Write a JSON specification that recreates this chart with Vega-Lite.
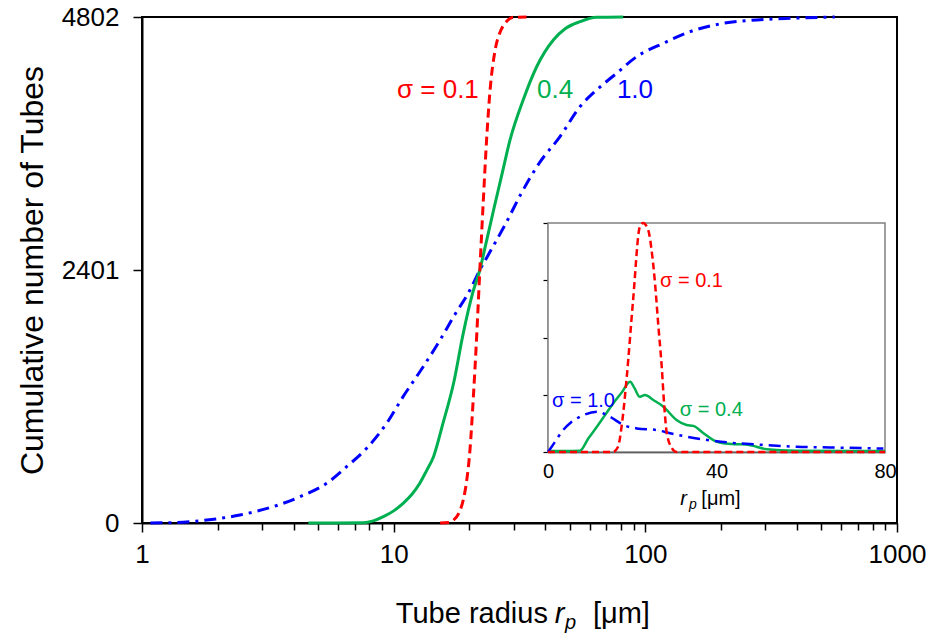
{
  "$schema": "https://vega.github.io/schema/vega-lite/v6.json",
  "width": 755,
  "height": 506,
  "autosize": {"type": "none"},
  "padding": {"left": 142, "top": 17, "right": 35, "bottom": 112},
  "background": "white",
  "config": {
    "view": {"stroke": "black", "strokeWidth": 2},
    "font": "Liberation Sans",
    "text": {"font": "Liberation Sans"},
    "axis": {
      "domainColor": "black",
      "tickColor": "black",
      "labelColor": "black",
      "titleColor": "black",
      "labelFont": "Liberation Sans",
      "titleFont": "Liberation Sans",
      "titleFontWeight": "normal",
      "grid": false
    }
  },
  "datasets": {
    "cumulative": [
      {"s": "0.1", "r": 15.3, "n": 0}, {"s": "0.1", "r": 16.5, "n": 5}, {"s": "0.1", "r": 17.3, "n": 28},
      {"s": "0.1", "r": 18.2, "n": 100}, {"s": "0.1", "r": 18.9, "n": 218}, {"s": "0.1", "r": 19.5, "n": 400},
      {"s": "0.1", "r": 20.1, "n": 693}, {"s": "0.1", "r": 20.7, "n": 1167}, {"s": "0.1", "r": 21.4, "n": 1800},
      {"s": "0.1", "r": 22.0, "n": 2401}, {"s": "0.1", "r": 22.7, "n": 3050}, {"s": "0.1", "r": 23.4, "n": 3635},
      {"s": "0.1", "r": 24.1, "n": 4078}, {"s": "0.1", "r": 25.3, "n": 4489}, {"s": "0.1", "r": 26.5, "n": 4660},
      {"s": "0.1", "r": 27.7, "n": 4742}, {"s": "0.1", "r": 29.9, "n": 4799}, {"s": "0.1", "r": 33.7, "n": 4802},

      {"s": "0.4", "r": 4.58, "n": 0}, {"s": "0.4", "r": 6.0, "n": 0}, {"s": "0.4", "r": 7.57, "n": 2},
      {"s": "0.4", "r": 8.3, "n": 20}, {"s": "0.4", "r": 9.1, "n": 60}, {"s": "0.4", "r": 10.0, "n": 115},
      {"s": "0.4", "r": 10.9, "n": 187}, {"s": "0.4", "r": 11.8, "n": 270}, {"s": "0.4", "r": 12.7, "n": 377},
      {"s": "0.4", "r": 13.5, "n": 495}, {"s": "0.4", "r": 14.4, "n": 629}, {"s": "0.4", "r": 15.7, "n": 946},
      {"s": "0.4", "r": 17.3, "n": 1326}, {"s": "0.4", "r": 18.9, "n": 1800}, {"s": "0.4", "r": 20.7, "n": 2200},
      {"s": "0.4", "r": 22.0, "n": 2401}, {"s": "0.4", "r": 23.1, "n": 2620}, {"s": "0.4", "r": 25.0, "n": 2980},
      {"s": "0.4", "r": 27.0, "n": 3320}, {"s": "0.4", "r": 29.0, "n": 3635}, {"s": "0.4", "r": 32.7, "n": 4014},
      {"s": "0.4", "r": 37.0, "n": 4330}, {"s": "0.4", "r": 43.1, "n": 4584}, {"s": "0.4", "r": 48.0, "n": 4690},
      {"s": "0.4", "r": 55.0, "n": 4758}, {"s": "0.4", "r": 64.0, "n": 4799}, {"s": "0.4", "r": 81.7, "n": 4802},

      {"s": "1.0", "r": 1.08, "n": 0}, {"s": "1.0", "r": 1.3, "n": 3}, {"s": "1.0", "r": 1.81, "n": 28},
      {"s": "1.0", "r": 2.45, "n": 76}, {"s": "1.0", "r": 3.32, "n": 155}, {"s": "1.0", "r": 4.25, "n": 250},
      {"s": "1.0", "r": 5.42, "n": 377}, {"s": "1.0", "r": 6.5, "n": 534}, {"s": "1.0", "r": 7.81, "n": 709},
      {"s": "1.0", "r": 9.38, "n": 946}, {"s": "1.0", "r": 10.9, "n": 1199}, {"s": "1.0", "r": 13.1, "n": 1483},
      {"s": "1.0", "r": 15.3, "n": 1737}, {"s": "1.0", "r": 17.3, "n": 1958}, {"s": "1.0", "r": 20.1, "n": 2211},
      {"s": "1.0", "r": 22.0, "n": 2401}, {"s": "1.0", "r": 24.5, "n": 2600}, {"s": "1.0", "r": 28.0, "n": 2850},
      {"s": "1.0", "r": 32.0, "n": 3120}, {"s": "1.0", "r": 38.0, "n": 3420}, {"s": "1.0", "r": 45.8, "n": 3666},
      {"s": "1.0", "r": 55.0, "n": 3951}, {"s": "1.0", "r": 64.0, "n": 4109}, {"s": "1.0", "r": 76.9, "n": 4268},
      {"s": "1.0", "r": 92.3, "n": 4425}, {"s": "1.0", "r": 117.8, "n": 4552}, {"s": "1.0", "r": 150.5, "n": 4663},
      {"s": "1.0", "r": 204, "n": 4742}, {"s": "1.0", "r": 277, "n": 4774}, {"s": "1.0", "r": 375, "n": 4790},
      {"s": "1.0", "r": 566, "n": 4802}
    ],
    "distribution": [
      {"s": "0.1", "r": 0, "f": 0}, {"s": "0.1", "r": 15.4, "f": 0}, {"s": "0.1", "r": 16.6, "f": 0.022},
      {"s": "0.1", "r": 17.6, "f": 0.13}, {"s": "0.1", "r": 18.7, "f": 0.329}, {"s": "0.1", "r": 20.2, "f": 0.663},
      {"s": "0.1", "r": 21.8, "f": 0.984}, {"s": "0.1", "r": 22.6, "f": 1.0}, {"s": "0.1", "r": 23.8, "f": 0.969},
      {"s": "0.1", "r": 24.6, "f": 0.88}, {"s": "0.1", "r": 25.4, "f": 0.738}, {"s": "0.1", "r": 26.2, "f": 0.55},
      {"s": "0.1", "r": 27.0, "f": 0.372}, {"s": "0.1", "r": 27.6, "f": 0.2}, {"s": "0.1", "r": 28.2, "f": 0.083},
      {"s": "0.1", "r": 29.4, "f": 0.017}, {"s": "0.1", "r": 30.5, "f": 0}, {"s": "0.1", "r": 80, "f": 0},

      {"s": "0.4", "r": 0, "f": 0.004}, {"s": "0.4", "r": 4, "f": 0.004}, {"s": "0.4", "r": 7.6, "f": 0.006},
      {"s": "0.4", "r": 9.6, "f": 0.06}, {"s": "0.4", "r": 11.6, "f": 0.11}, {"s": "0.4", "r": 13.5, "f": 0.16},
      {"s": "0.4", "r": 15.5, "f": 0.213}, {"s": "0.4", "r": 17.5, "f": 0.26}, {"s": "0.4", "r": 19.5, "f": 0.307},
      {"s": "0.4", "r": 20.5, "f": 0.28}, {"s": "0.4", "r": 21.8, "f": 0.241}, {"s": "0.4", "r": 23.0, "f": 0.249},
      {"s": "0.4", "r": 25.0, "f": 0.227}, {"s": "0.4", "r": 27.4, "f": 0.198}, {"s": "0.4", "r": 30.5, "f": 0.14},
      {"s": "0.4", "r": 32.9, "f": 0.118}, {"s": "0.4", "r": 34.5, "f": 0.114}, {"s": "0.4", "r": 36.9, "f": 0.082},
      {"s": "0.4", "r": 40.0, "f": 0.045}, {"s": "0.4", "r": 41.6, "f": 0.038}, {"s": "0.4", "r": 44.8, "f": 0.034},
      {"s": "0.4", "r": 47.0, "f": 0.033}, {"s": "0.4", "r": 49.5, "f": 0.023}, {"s": "0.4", "r": 51.9, "f": 0.012},
      {"s": "0.4", "r": 59.0, "f": 0.006}, {"s": "0.4", "r": 80, "f": 0.004},

      {"s": "1.0", "r": 0, "f": 0}, {"s": "1.0", "r": 1.5, "f": 0.04}, {"s": "1.0", "r": 3.6, "f": 0.096},
      {"s": "1.0", "r": 5.5, "f": 0.13}, {"s": "1.0", "r": 7.6, "f": 0.154}, {"s": "1.0", "r": 11.6, "f": 0.176},
      {"s": "1.0", "r": 14.7, "f": 0.154}, {"s": "1.0", "r": 17.9, "f": 0.118}, {"s": "1.0", "r": 21.1, "f": 0.103},
      {"s": "1.0", "r": 25.8, "f": 0.096}, {"s": "1.0", "r": 29.0, "f": 0.082}, {"s": "1.0", "r": 32.9, "f": 0.067},
      {"s": "1.0", "r": 36.9, "f": 0.055}, {"s": "1.0", "r": 43.2, "f": 0.041}, {"s": "1.0", "r": 51.1, "f": 0.031},
      {"s": "1.0", "r": 59.0, "f": 0.023}, {"s": "1.0", "r": 66.9, "f": 0.02}, {"s": "1.0", "r": 79.6, "f": 0.015}
    ]
  },
  "layer": [
    {
      "layer": [
        {
          "data": {"name": "cumulative"},
          "transform": [{"filter": "datum.s === '1.0'"}],
          "mark": {"type": "line", "color": "#0000ff", "strokeWidth": 3, "strokeDash": [12, 6, 3, 6], "interpolate": "monotone"},
          "encoding": {
            "x": {
              "field": "r", "type": "quantitative",
              "scale": {"type": "log", "domain": [1, 1000], "nice": false},
              "axis": {
                "title": null,
                "values": [1, 2, 3, 4, 5, 6, 7, 8, 9, 10, 20, 30, 40, 50, 60, 70, 80, 90, 100, 200, 300, 400, 500, 600, 700, 800, 900, 1000],
                "format": "d",
                "labelExpr": "(datum.value == 1 || datum.value == 10 || datum.value == 100 || datum.value == 1000) ? datum.label : ''",
                "labelFontSize": 26,
                "labelPadding": 9,
                "labelFlush": false,
                "labelOverlap": false,
                "tickSize": {"condition": {"test": "datum.value == 1 || datum.value == 10 || datum.value == 100 || datum.value == 1000", "value": 9}, "value": 7},
                "tickWidth": 1.5,
                "domainWidth": 2
              }
            },
            "y": {
              "field": "n", "type": "quantitative",
              "scale": {"domain": [0, 4802], "nice": false, "zero": false},
              "axis": {
                "title": "Cumulative number of Tubes",
                "values": [0, 2401, 4802],
                "format": "d",
                "labelFontSize": 26,
                "labelPadding": 14,
                "tickSize": 9,
                "tickWidth": 1.5,
                "domainWidth": 2,
                "titleFontSize": 32,
                "titlePadding": 12
              }
            }
          }
        },
        {
          "data": {"name": "cumulative"},
          "transform": [{"filter": "datum.s === '0.4'"}],
          "mark": {"type": "line", "color": "#00b050", "strokeWidth": 3, "interpolate": "monotone"},
          "encoding": {
            "x": {"field": "r", "type": "quantitative"},
            "y": {"field": "n", "type": "quantitative"}
          }
        },
        {
          "data": {"name": "cumulative"},
          "transform": [{"filter": "datum.s === '0.1'"}],
          "mark": {"type": "line", "color": "#ff0000", "strokeWidth": 3, "strokeDash": [9, 5], "interpolate": "monotone"},
          "encoding": {
            "x": {"field": "r", "type": "quantitative"},
            "y": {"field": "n", "type": "quantitative"}
          }
        },
        {
          "data": {"values": [
            {"r": 10.31, "n": 4033, "txt": "σ = 0.1", "c": "0.1"},
            {"r": 37.1, "n": 4033, "txt": "0.4", "c": "0.4"},
            {"r": 77.1, "n": 4033, "txt": "1.0", "c": "1.0"}
          ]},
          "mark": {"type": "text", "align": "left", "baseline": "alphabetic", "fontSize": 26},
          "encoding": {
            "x": {"field": "r", "type": "quantitative"},
            "y": {"field": "n", "type": "quantitative"},
            "text": {"field": "txt"},
            "color": {"field": "c", "type": "nominal", "scale": {"domain": ["0.1", "0.4", "1.0"], "range": ["#ff0000", "#00b050", "#0000ff"]}, "legend": null}
          }
        },
        {
          "data": {"values": [
            {"r": 10.2, "n": -949, "txt": "Tube radius"},
            {"r": 61.9, "n": -949, "txt": "[μm]"}
          ]},
          "mark": {"type": "text", "align": "left", "baseline": "alphabetic", "color": "black", "fontSize": 29},
          "encoding": {
            "x": {"field": "r", "type": "quantitative"},
            "y": {"field": "n", "type": "quantitative"},
            "text": {"field": "txt"}
          }
        },
        {
          "data": {"values": [
            {"r": 43.7, "n": -949, "txt": "r", "sz": 29},
            {"r": 47.9, "n": -1010, "txt": "p", "sz": 20}
          ]},
          "mark": {"type": "text", "align": "left", "baseline": "alphabetic", "color": "black", "fontStyle": "italic"},
          "encoding": {
            "x": {"field": "r", "type": "quantitative"},
            "y": {"field": "n", "type": "quantitative"},
            "text": {"field": "txt"},
            "size": {"field": "sz", "type": "quantitative", "scale": null}
          }
        }
      ]
    },
    {
      "layer": [
        {
          "data": {"values": [{"r": 0, "r2": 80, "f": 0, "f2": 1}]},
          "mark": {"type": "rect", "fill": "white", "stroke": "#808080", "strokeWidth": 1.5},
          "encoding": {
            "x": {
              "field": "r", "type": "quantitative",
              "scale": {"domain": [0, 80], "range": [406, 743], "nice": false, "zero": false},
              "axis": {
                "orient": "bottom",
                "offset": -71,
                "values": [0, 40, 80],
                "title": null,
                "ticks": false,
                "labelFontSize": 20,
                "labelPadding": 9,
                "labelFlush": false,
                "labelOverlap": false,
                "domainWidth": 1.5
              }
            },
            "x2": {"field": "r2"},
            "y": {
              "field": "f", "type": "quantitative",
              "scale": {"domain": [0, 1], "range": [435, 206], "nice": false, "zero": false},
              "axis": {
                "orient": "left",
                "offset": -406,
                "values": [0, 0.25, 0.5, 0.75, 1],
                "labels": false,
                "title": null,
                "tickSize": 5,
                "tickWidth": 1.2,
                "domainWidth": 1.5
              }
            },
            "y2": {"field": "f2"}
          }
        },
        {
          "data": {"name": "distribution"},
          "transform": [{"filter": "datum.s === '0.4'"}],
          "mark": {"type": "line", "color": "#00b050", "strokeWidth": 2.5, "interpolate": "monotone"},
          "encoding": {
            "x": {"field": "r", "type": "quantitative"},
            "y": {"field": "f", "type": "quantitative"}
          }
        },
        {
          "data": {"name": "distribution"},
          "transform": [{"filter": "datum.s === '1.0'"}],
          "mark": {"type": "line", "color": "#0000ff", "strokeWidth": 2.5, "strokeDash": [12, 6, 3, 6], "interpolate": "monotone"},
          "encoding": {
            "x": {"field": "r", "type": "quantitative"},
            "y": {"field": "f", "type": "quantitative"}
          }
        },
        {
          "data": {"name": "distribution"},
          "transform": [{"filter": "datum.s === '0.1'"}],
          "mark": {"type": "line", "color": "#ff0000", "strokeWidth": 2.5, "strokeDash": [7, 4], "interpolate": "monotone"},
          "encoding": {
            "x": {"field": "r", "type": "quantitative"},
            "y": {"field": "f", "type": "quantitative"}
          }
        },
        {
          "data": {"values": [
            {"r": 26.6, "f": 0.72, "txt": "σ = 0.1", "c": "0.1"},
            {"r": 31.3, "f": 0.157, "txt": "σ = 0.4", "c": "0.4"},
            {"r": 0.95, "f": 0.197, "txt": "σ = 1.0", "c": "1.0"}
          ]},
          "mark": {"type": "text", "align": "left", "baseline": "alphabetic", "fontSize": 20},
          "encoding": {
            "x": {"field": "r", "type": "quantitative"},
            "y": {"field": "f", "type": "quantitative"},
            "text": {"field": "txt"},
            "color": {"field": "c", "type": "nominal", "scale": {"domain": ["0.1", "0.4", "1.0"], "range": ["#ff0000", "#00b050", "#0000ff"]}, "legend": null}
          }
        },
        {
          "data": {"values": [
            {"r": 31.4, "f": -0.231, "txt": "r", "sz": 20},
            {"r": 33.5, "f": -0.25, "txt": "p", "sz": 14}
          ]},
          "mark": {"type": "text", "align": "left", "baseline": "alphabetic", "color": "black", "fontStyle": "italic"},
          "encoding": {
            "x": {"field": "r", "type": "quantitative"},
            "y": {"field": "f", "type": "quantitative"},
            "text": {"field": "txt"},
            "size": {"field": "sz", "type": "quantitative", "scale": null}
          }
        },
        {
          "data": {"values": [
            {"r": 36.4, "f": -0.231, "txt": "[μm]"}
          ]},
          "mark": {"type": "text", "align": "left", "baseline": "alphabetic", "color": "black", "fontSize": 20},
          "encoding": {
            "x": {"field": "r", "type": "quantitative"},
            "y": {"field": "f", "type": "quantitative"},
            "text": {"field": "txt"}
          }
        }
      ]
    }
  ],
  "resolve": {
    "scale": {"x": "independent", "y": "independent", "color": "independent"},
    "axis": {"x": "independent", "y": "independent"}
  }
}
